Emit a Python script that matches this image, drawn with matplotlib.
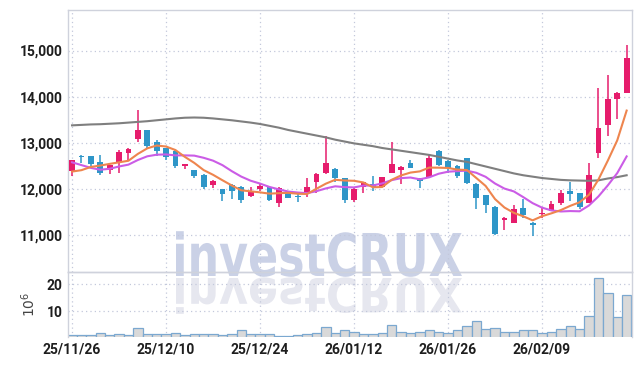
import numpy as np
import matplotlib.pyplot as plt
import matplotlib.transforms as mtransforms
from matplotlib.textpath import TextPath
from matplotlib.patches import PathPatch
from matplotlib.font_manager import FontProperties, findfont

# pick the narrowest bold face that is installed
label_font = 'DejaVu Sans'
for name in ['Liberation Sans Narrow', 'Roboto', 'Liberation Sans']:
    try:
        findfont(FontProperties(family=name), fallback_to_default=False)
        label_font = name
        break
    except Exception:
        pass
plt.rcParams['font.family'] = [label_font, 'DejaVu Sans']

# daily prices, 25/11/26 .. 26/03/05 (trading days)
opens = [12400, 12720, 12710, 12590, 12410, 12590, 12790, 13090, 13280, 13010,
         12880, 12830, 12510, 12410, 12310, 12080, 12010, 12090, 12040, 11860,
         12000, 12050, 11710, 11940, 11850, 11930, 12160, 12340, 12430, 12240,
         11760, 12040, 12100, 12050, 12350, 12420, 12570, 12230, 12270, 12820,
         12610, 12510, 12670, 12120, 11870, 11620, 11330, 11270, 11590, 11270,
         11470, 11530, 11710, 11970, 11910, 11710, 12790, 13390, 13960, 14070]
highs = [12640, 12730, 12720, 12740, 12530, 12850, 12880, 13710, 13290, 13060,
         12900, 12840, 12550, 12420, 12330, 12190, 12010, 12100, 12060, 12040,
         12120, 12070, 12040, 11960, 11930, 12230, 12340, 13150, 12450, 12250,
         12030, 12160, 12280, 12270, 13010, 12490, 12630, 12250, 12740, 12850,
         12620, 12530, 12680, 12130, 11880, 11630, 11400, 11650, 11790, 11280,
         11600, 11740, 11980, 12160, 11920, 12570, 14190, 14470, 14110, 15130]
lows = [12280, 12560, 12460, 12300, 12330, 12340, 12600, 13010, 12880, 12720,
        12630, 12450, 12440, 12250, 12000, 12020, 11740, 11780, 11690, 11840,
        11960, 11750, 11610, 11800, 11720, 11840, 11910, 12330, 12150, 11710,
        11730, 11910, 11970, 12040, 12340, 12110, 12450, 12020, 12260, 12500,
        12340, 12230, 12120, 11580, 11480, 11000, 11110, 11260, 11370, 10990,
        11370, 11520, 11660, 11750, 11580, 11700, 12670, 13140, 13510, 14070]
closes = [12630, 12700, 12540, 12340, 12520, 12800, 12870, 13280, 12940, 12830,
          12690, 12490, 12540, 12290, 12050, 12180, 11900, 11970, 11770, 11940,
          12070, 11760, 12020, 11810, 11840, 12040, 12330, 12570, 12230, 11760,
          12010, 12150, 12050, 12260, 12540, 12480, 12460, 12180, 12670, 12530,
          12450, 12280, 12140, 11810, 11660, 11030, 11370, 11560, 11440, 11220,
          11480, 11680, 11910, 11900, 11610, 12300, 13320, 13960, 14090, 14830]
# volume, millions of shares
volumes = [1.2, 1.2, 1.2, 1.9, 1.2, 1.7, 1.2, 3.9, 1.7, 1.7,
           1.7, 2.1, 1.4, 1.7, 1.7, 1.6, 1.4, 1.7, 3.0, 1.8,
           1.6, 1.7, 1.1, 0.9, 1.4, 1.7, 2.1, 4.3, 2.2, 3.0,
           2.6, 1.8, 1.8, 2.2, 5.0, 2.6, 2.1, 2.6, 3.0, 2.6,
           2.2, 3.2, 4.7, 6.5, 3.6, 3.9, 2.6, 2.6, 3.2, 3.0,
           2.2, 2.6, 3.6, 4.7, 3.6, 8.3, 22.2, 16.7, 8.0, 16.1]
# moving averages as drawn
ma5 = [12380, 12410, 12480, 12510, 12546, 12580, 12614, 12762, 12882, 12944,
       12922, 12846, 12698, 12568, 12412, 12310, 12192, 12078, 11974, 11952,
       11930, 11902, 11912, 11920, 11900, 11894, 12008, 12118, 12202, 12186,
       12180, 12144, 12040, 12046, 12202, 12296, 12358, 12384, 12466, 12464,
       12458, 12422, 12414, 12242, 12068, 11784, 11602, 11486, 11412, 11324,
       11414, 11476, 11546, 11638, 11716, 11880, 12208, 12618, 13056, 13700]
ma10 = [12580, 12520, 12460, 12420, 12440, 12490, 12530, 12630, 12710, 12745,
        12751, 12730, 12730, 12725, 12678, 12616, 12519, 12388, 12271, 12182,
        12120, 12047, 11995, 11947, 11926, 11912, 11955, 12015, 12061, 12043,
        12037, 12076, 12079, 12124, 12194, 12238, 12251, 12212, 12256, 12333,
        12377, 12390, 12399, 12354, 12266, 12121, 12012, 11950, 11827, 11696,
        11599, 11539, 11516, 11525, 11520, 11647, 11842, 12082, 12347, 12708]
ma60 = [13380, 13390, 13400, 13405, 13415, 13425, 13440, 13455, 13470, 13490,
        13510, 13530, 13545, 13550, 13545, 13530, 13510, 13490, 13465, 13440,
        13410, 13370, 13330, 13280, 13240, 13200, 13160, 13120, 13070, 13030,
        12990, 12960, 12930, 12890, 12860, 12830, 12800, 12770, 12740, 12700,
        12660, 12620, 12590, 12540, 12490, 12440, 12390, 12340, 12300, 12270,
        12240, 12220, 12200, 12190, 12185, 12180, 12190, 12230, 12260, 12300]
date_labels = ['25/11/26', '25/12/10', '25/12/24', '26/01/12', '26/01/26', '26/02/09']
price_ticks = [11000, 12000, 13000, 14000, 15000]
price_labels = ['11,000', '12,000', '13,000', '14,000', '15,000']

UP = '#e61c6c'
DOWN = '#2e96c8'
GRID = '#c3c8db'
fs = 10

o = np.array(opens); c = np.array(closes)
x = np.arange(len(o))
col = np.where(c >= o, UP, DOWN)

fig = plt.figure(figsize=(6.42, 3.66), dpi=100)
ax = fig.add_axes([68/642, 94/366, 564/642, 262/366])
axv = fig.add_axes([68/642, 29/366, 564/642, 65/366], sharex=ax)
for a in (ax, axv):
    a.patch.set_alpha(0)
    for s in a.spines.values():
        s.set_color('#cfd2dc')
        s.set_linewidth(1)
    a.grid(True, ls=(0, (1, 2.5)), color=GRID, lw=0.9)
    a.set_axisbelow(True)
    a.tick_params(length=0, labelsize=fs, labelcolor='#1e1e1e', pad=4)
axv.spines['bottom'].set_visible(False)

# watermark with reflection (display pixels)
fp = FontProperties(family='DejaVu Sans', weight='bold')
tp = TextPath((0, 0), 'investCRUX', size=100, prop=fp)
bb = tp.get_extents()
sx = 286 / bb.width
sy = 43 / 72.9
tr = mtransforms.Affine2D().translate(-bb.x0, 0).scale(sx, sy).translate(176, 90)
fig.add_artist(PathPatch(tr.transform_path(tp), fc='#cad1e6', ec='none',
                         transform=mtransforms.IdentityTransform(), zorder=-1))
tr2 = mtransforms.Affine2D().translate(-bb.x0, 0).scale(sx, -sy * 0.8).translate(176, 88)
fig.add_artist(PathPatch(tr2.transform_path(tp), fc='#e6e7ef', ec='none',
                         transform=mtransforms.IdentityTransform(), zorder=-1))

# candles
ax.vlines(x, lows, highs, colors=col, lw=1.1, zorder=2)
body = np.maximum(np.abs(c - o), 18)
ax.bar(x, body, bottom=np.minimum(o, c), width=0.62, color=col, zorder=3)

ax.plot(x, ma60, color='#7f7f7f', lw=1.5, zorder=4)
ax.plot(x, ma10, color='#cb5ce6', lw=1.5, zorder=4)
ax.plot(x, ma5, color='#ee854e', lw=1.5, zorder=4)

ax.set_xlim(-0.43, 59.57)
ax.set_ylim(10206, 15877)
ax.set_yticks(price_ticks)
ax.set_yticklabels(price_labels, fontweight='bold')
ax.tick_params(labelbottom=False)

axv.bar(x, volumes, width=1.0, color='#d9d9d9', edgecolor='#7ba8d0', lw=0.9)
axv.set_ylim(0.6, 24.4)
axv.set_yticks([10, 20])
axv.set_yticklabels(['10', '20'], fontweight='bold')
axv.set_xticks(np.arange(0, 60, 10))
axv.set_xticklabels(date_labels, fontweight='bold')
axv.set_ylabel(r'$10^6$', fontsize=10, color='#444444', family='DejaVu Serif', labelpad=6)

fig.savefig('out.png', dpi=100)
